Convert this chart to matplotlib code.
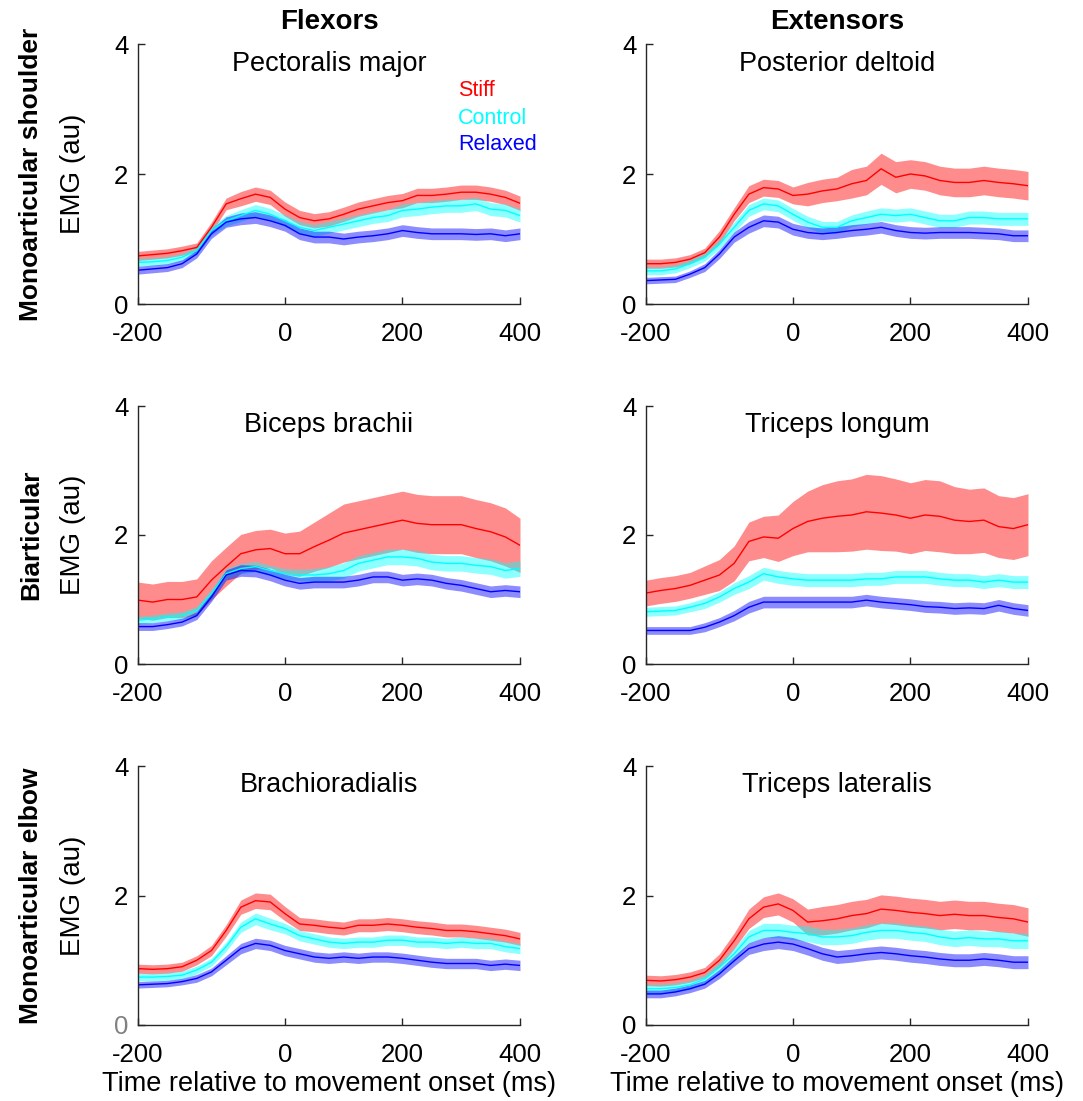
import numpy as np
import matplotlib
matplotlib.use("Agg")
import matplotlib.pyplot as plt

plt.rcParams['font.family'] = ['Liberation Sans', 'DejaVu Sans']

# time grid (axis units; the left end is labelled -200 in the original)
t = np.arange(-250, 401, 25)
xtick_pos = [-250, 0, 200, 400]
xtick_lab = ['-200', '0', '200', '400']

conditions = ['Stiff', 'Control', 'Relaxed']
line_colors = ['#ff0000', '#00ffff', '#0000ff']

muscles = ['Pectoralis major', 'Posterior deltoid',
           'Biceps brachii', 'Triceps longum',
           'Brachioradialis', 'Triceps lateralis']
col_titles = ['Flexors', 'Extensors']
row_titles = ['Monoarticular shoulder', 'Biarticular', 'Monoarticular elbow']

# Pectoralis major
pm_stiff = [0.74, 0.76, 0.78, 0.82, 0.87, 1.18, 1.54, 1.62, 1.69, 1.64, 1.46, 1.33, 1.28, 1.31,
            1.38, 1.46, 1.51, 1.56, 1.59, 1.67, 1.67, 1.69, 1.72, 1.72, 1.69, 1.64, 1.55]
pm_ctrl = [0.64, 0.65, 0.67, 0.72, 0.82, 1.13, 1.28, 1.36, 1.44, 1.38, 1.28, 1.18, 1.13, 1.18,
           1.23, 1.28, 1.33, 1.36, 1.44, 1.46, 1.49, 1.51, 1.51, 1.54, 1.46, 1.44, 1.36]
pm_relax = [0.52, 0.54, 0.56, 0.62, 0.77, 1.08, 1.26, 1.31, 1.33, 1.28, 1.21, 1.08, 1.03, 1.03,
            1.00, 1.03, 1.05, 1.08, 1.13, 1.10, 1.08, 1.08, 1.08, 1.07, 1.08, 1.05, 1.08]
pm_stiff_sd = [0.07, 0.07, 0.07, 0.07, 0.07, 0.08, 0.09, 0.11, 0.11, 0.11, 0.11, 0.11, 0.11, 0.11,
               0.11, 0.11, 0.11, 0.11, 0.11, 0.11, 0.11, 0.11, 0.11, 0.11, 0.11, 0.11, 0.11]
pm_ctrl_sd = [0.06, 0.06, 0.06, 0.06, 0.06, 0.07, 0.08, 0.09, 0.09, 0.09, 0.09, 0.09, 0.09, 0.09,
              0.09, 0.09, 0.09, 0.09, 0.10, 0.10, 0.10, 0.10, 0.10, 0.10, 0.10, 0.10, 0.10]
pm_relax_sd = [0.06, 0.06, 0.06, 0.06, 0.06, 0.07, 0.08, 0.09, 0.09, 0.09, 0.09, 0.09, 0.09, 0.09,
               0.09, 0.09, 0.09, 0.09, 0.09, 0.09, 0.09, 0.09, 0.09, 0.09, 0.09, 0.09, 0.09]

# Posterior deltoid
pd_stiff = [0.62, 0.62, 0.64, 0.69, 0.79, 1.03, 1.38, 1.69, 1.79, 1.77, 1.67, 1.69, 1.74, 1.77,
            1.85, 1.90, 2.08, 1.95, 2.00, 1.97, 1.90, 1.87, 1.87, 1.90, 1.87, 1.85, 1.82]
pd_ctrl = [0.51, 0.51, 0.54, 0.62, 0.72, 0.92, 1.18, 1.44, 1.54, 1.51, 1.38, 1.26, 1.18, 1.18,
           1.28, 1.33, 1.38, 1.36, 1.38, 1.33, 1.28, 1.28, 1.33, 1.33, 1.31, 1.31, 1.31]
pd_relax = [0.36, 0.37, 0.38, 0.46, 0.56, 0.77, 1.03, 1.18, 1.28, 1.26, 1.15, 1.10, 1.08, 1.10,
            1.13, 1.15, 1.18, 1.13, 1.10, 1.09, 1.10, 1.10, 1.10, 1.09, 1.08, 1.05, 1.05]
pd_stiff_sd = [0.07, 0.07, 0.07, 0.07, 0.07, 0.10, 0.10, 0.13, 0.13, 0.13, 0.13, 0.18, 0.18, 0.18,
               0.22, 0.22, 0.24, 0.24, 0.22, 0.22, 0.22, 0.22, 0.22, 0.22, 0.22, 0.22, 0.22]
pd_ctrl_sd = [0.06, 0.06, 0.06, 0.06, 0.06, 0.07, 0.08, 0.09, 0.09, 0.09, 0.09, 0.09, 0.09, 0.09,
              0.09, 0.10, 0.10, 0.10, 0.10, 0.10, 0.10, 0.10, 0.10, 0.10, 0.10, 0.10, 0.10]
pd_relax_sd = [0.05, 0.05, 0.05, 0.05, 0.06, 0.07, 0.08, 0.09, 0.09, 0.09, 0.09, 0.09, 0.09, 0.09,
               0.09, 0.09, 0.09, 0.09, 0.09, 0.09, 0.09, 0.09, 0.09, 0.09, 0.09, 0.09, 0.09]

# Biceps brachii
bb_stiff = [0.99, 0.96, 1.00, 1.00, 1.04, 1.30, 1.51, 1.71, 1.77, 1.79, 1.71, 1.71, 1.82, 1.92,
            2.03, 2.08, 2.13, 2.18, 2.23, 2.18, 2.16, 2.16, 2.16, 2.10, 2.05, 1.97, 1.84]
bb_ctrl = [0.68, 0.70, 0.73, 0.75, 0.83, 1.09, 1.40, 1.48, 1.51, 1.45, 1.40, 1.38, 1.38, 1.40,
           1.45, 1.56, 1.61, 1.66, 1.66, 1.64, 1.58, 1.56, 1.56, 1.53, 1.51, 1.45, 1.48]
bb_relax = [0.58, 0.58, 0.61, 0.65, 0.75, 1.04, 1.38, 1.45, 1.44, 1.38, 1.30, 1.25, 1.27, 1.27,
            1.27, 1.30, 1.35, 1.35, 1.30, 1.32, 1.30, 1.25, 1.22, 1.17, 1.12, 1.14, 1.12]
bb_stiff_sd = [0.28, 0.28, 0.28, 0.28, 0.28, 0.30, 0.30, 0.30, 0.30, 0.30, 0.32, 0.35, 0.38, 0.42,
               0.45, 0.45, 0.45, 0.45, 0.45, 0.45, 0.45, 0.45, 0.45, 0.45, 0.45, 0.45, 0.42]
bb_ctrl_sd = [0.06, 0.06, 0.06, 0.06, 0.06, 0.07, 0.08, 0.08, 0.08, 0.08, 0.08, 0.09, 0.10, 0.11,
              0.12, 0.12, 0.12, 0.12, 0.12, 0.12, 0.12, 0.12, 0.12, 0.12, 0.12, 0.12, 0.12]
bb_relax_sd = [0.06, 0.06, 0.06, 0.06, 0.06, 0.07, 0.08, 0.09, 0.09, 0.09, 0.09, 0.09, 0.09, 0.09,
               0.09, 0.09, 0.09, 0.09, 0.09, 0.09, 0.09, 0.09, 0.09, 0.09, 0.09, 0.09, 0.09]

# Triceps longum
tl_stiff = [1.10, 1.14, 1.17, 1.22, 1.30, 1.38, 1.56, 1.90, 1.97, 1.95, 2.10, 2.21, 2.26, 2.29,
            2.31, 2.36, 2.34, 2.31, 2.26, 2.31, 2.29, 2.23, 2.21, 2.23, 2.13, 2.10, 2.16]
tl_ctrl = [0.81, 0.82, 0.83, 0.88, 0.94, 1.04, 1.17, 1.27, 1.40, 1.35, 1.32, 1.30, 1.30, 1.30,
           1.30, 1.32, 1.32, 1.35, 1.35, 1.35, 1.32, 1.30, 1.30, 1.27, 1.30, 1.27, 1.27]
tl_relax = [0.52, 0.52, 0.52, 0.52, 0.57, 0.65, 0.75, 0.88, 0.96, 0.96, 0.96, 0.96, 0.96, 0.96,
            0.96, 0.99, 0.96, 0.94, 0.92, 0.89, 0.88, 0.86, 0.87, 0.86, 0.91, 0.86, 0.83]
tl_stiff_sd = [0.20, 0.20, 0.20, 0.20, 0.22, 0.24, 0.27, 0.30, 0.32, 0.36, 0.42, 0.47, 0.52, 0.55,
               0.56, 0.58, 0.58, 0.56, 0.55, 0.55, 0.55, 0.52, 0.50, 0.50, 0.48, 0.48, 0.48]
tl_ctrl_sd = [0.07, 0.07, 0.07, 0.07, 0.08, 0.08, 0.09, 0.10, 0.10, 0.10, 0.10, 0.10, 0.10, 0.10,
              0.10, 0.10, 0.10, 0.10, 0.10, 0.10, 0.10, 0.10, 0.10, 0.10, 0.10, 0.10, 0.10]
tl_relax_sd = [0.06, 0.06, 0.06, 0.06, 0.07, 0.07, 0.08, 0.09, 0.09, 0.09, 0.09, 0.09, 0.09, 0.09,
               0.09, 0.09, 0.09, 0.09, 0.09, 0.09, 0.09, 0.09, 0.09, 0.09, 0.09, 0.09, 0.09]

# Brachioradialis
br_stiff = [0.87, 0.86, 0.87, 0.90, 1.00, 1.15, 1.46, 1.82, 1.92, 1.90, 1.72, 1.56, 1.54, 1.51,
            1.49, 1.54, 1.54, 1.56, 1.54, 1.51, 1.49, 1.46, 1.46, 1.44, 1.41, 1.38, 1.33]
br_ctrl = [0.74, 0.74, 0.75, 0.77, 0.85, 0.97, 1.21, 1.51, 1.64, 1.56, 1.49, 1.38, 1.33, 1.28,
           1.26, 1.28, 1.28, 1.31, 1.31, 1.28, 1.28, 1.26, 1.28, 1.26, 1.26, 1.21, 1.18]
br_relax = [0.62, 0.63, 0.64, 0.67, 0.72, 0.82, 1.00, 1.18, 1.26, 1.23, 1.15, 1.10, 1.05, 1.03,
            1.05, 1.03, 1.05, 1.05, 1.03, 1.00, 0.97, 0.95, 0.95, 0.95, 0.92, 0.94, 0.92]
br_stiff_sd = [0.07, 0.07, 0.07, 0.07, 0.07, 0.08, 0.09, 0.11, 0.12, 0.12, 0.11, 0.10, 0.10, 0.10,
               0.10, 0.10, 0.10, 0.10, 0.10, 0.10, 0.10, 0.10, 0.10, 0.10, 0.10, 0.10, 0.10]
br_ctrl_sd = [0.06, 0.06, 0.06, 0.06, 0.06, 0.06, 0.07, 0.08, 0.09, 0.09, 0.08, 0.08, 0.08, 0.08,
              0.08, 0.08, 0.08, 0.08, 0.08, 0.08, 0.08, 0.08, 0.08, 0.08, 0.08, 0.08, 0.08]
br_relax_sd = [0.05, 0.05, 0.05, 0.05, 0.06, 0.06, 0.07, 0.08, 0.08, 0.08, 0.08, 0.08, 0.08, 0.08,
               0.08, 0.08, 0.08, 0.08, 0.08, 0.08, 0.08, 0.08, 0.08, 0.08, 0.08, 0.08, 0.08]

# Triceps lateralis
tt_stiff = [0.69, 0.68, 0.70, 0.74, 0.81, 1.00, 1.30, 1.64, 1.82, 1.87, 1.77, 1.59, 1.61, 1.64,
            1.69, 1.72, 1.79, 1.77, 1.74, 1.72, 1.69, 1.71, 1.69, 1.69, 1.66, 1.64, 1.59]
tt_ctrl = [0.56, 0.56, 0.58, 0.62, 0.71, 0.89, 1.10, 1.36, 1.46, 1.46, 1.43, 1.41, 1.36, 1.36,
           1.38, 1.43, 1.46, 1.46, 1.43, 1.41, 1.36, 1.33, 1.35, 1.33, 1.33, 1.30, 1.30]
tt_relax = [0.48, 0.48, 0.51, 0.56, 0.63, 0.79, 0.99, 1.18, 1.25, 1.28, 1.25, 1.18, 1.10, 1.05,
            1.07, 1.10, 1.12, 1.10, 1.07, 1.05, 1.02, 1.00, 1.00, 1.02, 1.00, 0.97, 0.97]
tt_stiff_sd = [0.08, 0.08, 0.08, 0.08, 0.08, 0.10, 0.12, 0.15, 0.16, 0.17, 0.18, 0.20, 0.22, 0.22,
               0.22, 0.22, 0.22, 0.22, 0.22, 0.22, 0.22, 0.22, 0.22, 0.22, 0.22, 0.22, 0.22]
tt_ctrl_sd = [0.07, 0.07, 0.07, 0.07, 0.07, 0.08, 0.09, 0.10, 0.11, 0.11, 0.11, 0.12, 0.12, 0.12,
              0.12, 0.12, 0.12, 0.12, 0.12, 0.12, 0.12, 0.12, 0.12, 0.12, 0.12, 0.12, 0.12]
tt_relax_sd = [0.06, 0.06, 0.06, 0.06, 0.06, 0.07, 0.08, 0.09, 0.10, 0.10, 0.10, 0.10, 0.10, 0.10,
               0.10, 0.10, 0.10, 0.10, 0.10, 0.10, 0.10, 0.10, 0.10, 0.10, 0.10, 0.10, 0.10]

means = [[pm_stiff, pm_ctrl, pm_relax], [pd_stiff, pd_ctrl, pd_relax],
         [bb_stiff, bb_ctrl, bb_relax], [tl_stiff, tl_ctrl, tl_relax],
         [br_stiff, br_ctrl, br_relax], [tt_stiff, tt_ctrl, tt_relax]]
sds = [[pm_stiff_sd, pm_ctrl_sd, pm_relax_sd], [pd_stiff_sd, pd_ctrl_sd, pd_relax_sd],
       [bb_stiff_sd, bb_ctrl_sd, bb_relax_sd], [tl_stiff_sd, tl_ctrl_sd, tl_relax_sd],
       [br_stiff_sd, br_ctrl_sd, br_relax_sd], [tt_stiff_sd, tt_ctrl_sd, tt_relax_sd]]

W, H = 1083, 1101
fig = plt.figure(figsize=(W / 100, H / 100), dpi=100)

col_x = [138, 646]          # left edges (px)
row_y = [(44, 304), (406, 664), (766, 1025)]   # top, bottom (px)
ax_w = 382

axes = []
for r in range(3):
    for c in range(2):
        top, bot = row_y[r]
        ax = fig.add_axes([col_x[c] / W, 1 - bot / H, ax_w / W, (bot - top) / H])
        axes.append(ax)
        i = r * 2 + c
        for k in range(3):
            m = np.array(means[i][k])
            s = np.array(sds[i][k])
            ax.fill_between(t, m - s, m + s, color=line_colors[k], alpha=0.45, lw=0)
        for k in range(3):
            ax.plot(t, means[i][k], color=line_colors[k], lw=1.0)
        ax.set_xlim(-250, 400)
        ax.set_ylim(0, 4)
        ax.set_xticks(xtick_pos)
        ax.set_xticklabels(xtick_lab)
        ax.set_yticks([0, 2, 4])
        ax.spines[['top', 'right']].set_visible(False)
        for sp in ['left', 'bottom']:
            ax.spines[sp].set_color('#262626')
            ax.spines[sp].set_linewidth(1.0)
        ax.tick_params(direction='in', length=5, width=1.0, color='#262626',
                       labelsize=18.5)
        ax.tick_params(axis='x', pad=13)
        ax.tick_params(axis='y', pad=7)
        ax.text(0.5, 0.925, muscles[i], transform=ax.transAxes, ha='center',
                va='center', fontsize=19.5)
        if r == 2:
            ax.set_xlabel('Time relative to movement onset (ms)', fontsize=19.5, labelpad=3)
        if c == 0:
            fig.text(73 / W, 1 - (top + bot) / 2 / H, 'EMG (au)', rotation=90,
                     ha='center', va='center', fontsize=20)
            fig.text(31 / W, 1 - (top + bot) / 2 / H, row_titles[r], rotation=90,
                     ha='center', va='center', fontsize=19, fontweight='bold')

# grey zero label in bottom-left panel
axes[4].get_yticklabels()[0].set_color('#808080')

# legend as coloured text
for k, (lab, yy) in enumerate(zip(conditions, [3.29, 2.86, 2.45])):
    axes[0].text(295, yy, lab, color=line_colors[k], fontsize=15.5, ha='left', va='center')

for c in range(2):
    fig.text((col_x[c] + ax_w / 2) / W, 1 - 22 / H, col_titles[c], ha='center',
             va='center', fontsize=20, fontweight='bold')

fig.savefig('out.png', dpi=100)
